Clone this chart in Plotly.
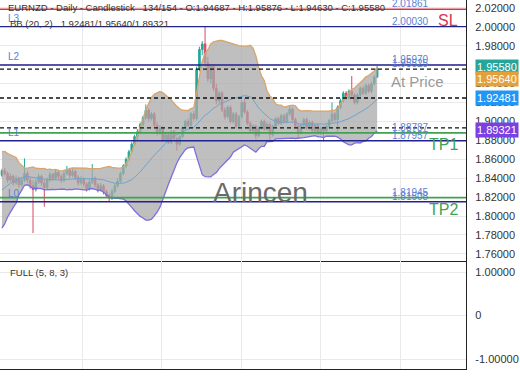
import plotly.graph_objects as go
import pandas as pd

# ---------------- data ----------------
warmup_close = [1.795, 1.790, 1.800, 1.805, 1.810, 1.800, 1.815, 1.820, 1.835, 1.845,
                1.840, 1.850, 1.845, 1.838, 1.842, 1.848, 1.840, 1.845, 1.843]

opens = [1.8430,1.8480,1.8450,1.8380,1.8420,1.8350,1.8400,1.8330,1.8380,1.8450,
         1.8380,1.8320,1.8280,1.8360,1.8420,1.8350,1.8300,1.8380,1.8440,1.8400,
         1.8460,1.8420,1.8380,1.8450,1.8490,1.8430,1.8470,1.8410,1.8350,1.8390,
         1.8340,1.8290,1.8360,1.8400,1.8330,1.8280,1.8320,1.8260,1.8220,1.8190,
         1.8260,1.8320,1.8370,1.8450,1.8530,1.8600,1.8680,1.8760,1.8840,1.8890,
         1.8970,1.9040,1.9120,1.9030,1.9080,1.8960,1.8880,1.8930,1.8800,1.8860,
         1.8780,1.8890,1.8820,1.8760,1.8840,1.8930,1.9000,1.8960,1.9080,1.9030,
         1.9550,1.9760,1.9820,1.9620,1.9450,1.9580,1.9350,1.9220,1.9300,1.9120,
         1.9050,1.9150,1.9000,1.9080,1.8950,1.9050,1.9200,1.9100,1.8980,1.8900,
         1.8950,1.8850,1.8930,1.9000,1.8920,1.8970,1.8860,1.8950,1.9030,1.8980,
         1.9060,1.9000,1.9080,1.9130,1.9020,1.8950,1.8880,1.8960,1.9020,1.8930,
         1.8990,1.8900,1.8960,1.8880,1.8930,1.8900,1.8950,1.9010,1.9080,1.9020,
         1.9150,1.9220,1.9300,1.9250,1.9320,1.9280,1.9200,1.9280,1.9350,1.9300,
         1.9380,1.9320,1.9400,1.94687]

highs = [1.8500,1.8510,1.8470,1.8450,1.8440,1.8430,1.8420,1.8410,1.8610,1.8480,
         1.8410,1.8380,1.8390,1.8450,1.8440,1.8380,1.8410,1.8470,1.8460,1.8490,
         1.8480,1.8440,1.8480,1.8530,1.8510,1.8500,1.8490,1.8430,1.8420,1.8410,
         1.8360,1.8390,1.8550,1.8420,1.8350,1.8350,1.8340,1.8280,1.8240,1.8290,
         1.8340,1.8400,1.8470,1.8550,1.8620,1.8700,1.8780,1.8860,1.8920,1.8990,
         1.9060,1.9180,1.9140,1.9100,1.9100,1.8990,1.8960,1.8950,1.8880,1.8880,
         1.8910,1.8910,1.8840,1.8860,1.8950,1.9020,1.9030,1.9100,1.9110,1.9580,
         1.9790,1.9850,2.0010,1.9680,1.9600,1.9600,1.9400,1.9320,1.9320,1.9150,
         1.9170,1.9170,1.9100,1.9100,1.9070,1.9220,1.9240,1.9120,1.9000,1.8970,
         1.8970,1.8950,1.9020,1.9020,1.8990,1.8990,1.8970,1.9050,1.9050,1.9080,
         1.9080,1.9100,1.9170,1.9150,1.9040,1.8970,1.8980,1.9040,1.9040,1.9010,
         1.9010,1.8980,1.8980,1.8950,1.8950,1.8970,1.9030,1.9200,1.9100,1.9170,
         1.9240,1.9320,1.9320,1.9340,1.9480,1.9300,1.9300,1.9370,1.9370,1.9400,
         1.9400,1.9420,1.9490,1.95876]

lows = [1.8410,1.8430,1.8350,1.8360,1.8320,1.8330,1.8300,1.8310,1.8360,1.8350,
        1.8290,1.7820,1.8260,1.8340,1.8320,1.8100,1.8280,1.8360,1.8370,1.8380,
        1.8390,1.8350,1.8360,1.8430,1.8400,1.8410,1.8380,1.8320,1.8330,1.8310,
        1.8260,1.8270,1.8340,1.8300,1.8250,1.8260,1.8230,1.8190,1.8150,1.8170,
        1.8240,1.8300,1.8350,1.8430,1.8510,1.8580,1.8660,1.8740,1.8800,1.8870,
        1.8950,1.9020,1.9000,1.9010,1.8940,1.8850,1.8860,1.8780,1.8780,1.8760,
        1.8760,1.8800,1.8690,1.8740,1.8820,1.8910,1.8940,1.8940,1.9010,1.9010,
        1.9530,1.9700,1.9580,1.9420,1.9400,1.9320,1.9180,1.9190,1.9100,1.9020,
        1.9030,1.8980,1.8980,1.8930,1.8930,1.9030,1.9080,1.8960,1.8880,1.8870,
        1.8810,1.8830,1.8910,1.8900,1.8900,1.8790,1.8840,1.8930,1.8960,1.8960,
        1.8980,1.8980,1.9060,1.9000,1.8930,1.8820,1.8860,1.8940,1.8910,1.8910,
        1.8880,1.8880,1.8860,1.8860,1.8790,1.8880,1.8930,1.8990,1.9000,1.8880,
        1.9130,1.9200,1.9230,1.9230,1.9260,1.9180,1.9180,1.9260,1.9280,1.9280,
        1.9300,1.9300,1.9380,1.94630]

closes = [1.8480,1.8450,1.8380,1.8420,1.8350,1.8400,1.8330,1.8380,1.8450,1.8380,
          1.8320,1.8280,1.8360,1.8420,1.8350,1.8300,1.8380,1.8440,1.8400,1.8460,
          1.8420,1.8380,1.8450,1.8490,1.8430,1.8470,1.8410,1.8350,1.8390,1.8340,
          1.8290,1.8360,1.8400,1.8330,1.8280,1.8320,1.8260,1.8220,1.8190,1.8260,
          1.8320,1.8370,1.8450,1.8530,1.8600,1.8680,1.8760,1.8840,1.8890,1.8970,
          1.9040,1.9120,1.9030,1.9080,1.8960,1.8880,1.8930,1.8800,1.8860,1.8780,
          1.8890,1.8820,1.8760,1.8840,1.8930,1.9000,1.8960,1.9080,1.9030,1.9550,
          1.9760,1.9820,1.9620,1.9450,1.9580,1.9350,1.9220,1.9300,1.9120,1.9050,
          1.9150,1.9000,1.9080,1.8950,1.9050,1.9200,1.9100,1.8980,1.8900,1.8950,
          1.8850,1.8930,1.9000,1.8920,1.8970,1.8860,1.8950,1.9030,1.8980,1.9060,
          1.9000,1.9080,1.9130,1.9020,1.8950,1.8880,1.8960,1.9020,1.8930,1.8990,
          1.8900,1.8960,1.8880,1.8930,1.8900,1.8950,1.9010,1.9080,1.9020,1.9150,
          1.9220,1.9300,1.9250,1.9320,1.9280,1.9200,1.9280,1.9350,1.9300,1.9380,
          1.9320,1.9400,1.94687,1.95580]

# horizontal levels
level_values = [2.01861, 2.00030, 1.95970, 1.95525, 1.92481, 1.89321, 1.88787, 1.87957, 1.81945, 1.81508]
level_kinds  = ["sl", "line", "line", "dash", "dash", "dash", "tp", "line", "tp", "line"]
level_labels = ["2.01861", "2.00030", "1.95970", "1.95525", "", "", "1.88787", "1.87957", "1.81945", "1.81508"]
side_names   = {2.00030: "L3", 1.95970: "L2", 1.87957: "L1", 1.81508: "L0"}
tag_names    = {2.01861: "SL", 1.88787: "TP1", 1.81945: "TP2"}

price_boxes  = [1.95580, 1.95640, 1.92481, 1.89321]
box_colors   = ["#26a69a", "#e3a13b", "#2196f3", "#7c3fe0"]
box_shifts   = [2, -11, 0, -2]

main_ticks = [1.76, 1.78, 1.80, 1.82, 1.84, 1.86, 1.88, 1.90, 1.92, 1.94, 1.96, 1.98, 2.00, 2.02]
osc_ticks = [-1, 0, 1]
osc_tick_text = ["-1.00000", "0", "1.00000"]
grid_x = [28.4, 56.6, 84.8, 113.0, 141.2]

title_line = "EURNZD - Daily - Candlestick   134/154 - O:1.94687 - H:1.95876 - L:1.94630 - C:1.95580"
bb_line = "BB (20, 2)   1.92481/1.95640/1.89321"
osc_line = "FULL (5, 8, 3)"

# ---------------- derived BB ----------------
allc = pd.Series(warmup_close + closes)
mid = allc.rolling(20).mean()
sd = allc.rolling(20).std(ddof=0)
n = len(closes)
bb_mid = mid.iloc[-n:].tolist()
bb_up = (mid + 2 * sd).iloc[-n:].tolist()
bb_lo = (mid - 2 * sd).iloc[-n:].tolist()
xs = list(range(n))

FONT = "Liberation Sans, Arial, sans-serif"

fig = go.Figure()
fig.add_trace(go.Scatter(x=xs, y=bb_up, mode="lines", line=dict(color="#d8a56c", width=1.3),
                         hoverinfo="skip", showlegend=False))
fig.add_trace(go.Scatter(x=xs, y=bb_lo, mode="lines", line=dict(color="#7b6fe0", width=1.3),
                         fill="tonexty", fillcolor="rgba(170,170,170,0.75)",
                         hoverinfo="skip", showlegend=False))
fig.add_trace(go.Scatter(x=xs, y=bb_mid, mode="lines", line=dict(color="#6fa3cf", width=1),
                         hoverinfo="skip", showlegend=False))
fig.add_trace(go.Candlestick(x=xs, open=opens, high=highs, low=lows, close=closes,
                             increasing=dict(line=dict(color="#26a69a", width=1), fillcolor="#26a69a"),
                             decreasing=dict(line=dict(color="#dd4762", width=1), fillcolor="#dd4762"),
                             whiskerwidth=0, showlegend=False))
fig.add_trace(go.Scatter(x=[None], y=[None], xaxis="x2", yaxis="y2", showlegend=False))

shapes = []
annotations = []
colors = {"sl": "#d9344a", "line": "#22228f", "tp": "#3fa24f", "dash": "#111111"}
for v, k, lab in zip(level_values, level_kinds, level_labels):
    if k == "dash":
        ln = dict(color=colors[k], width=1.3, dash="4px,3px")
    else:
        ln = dict(color=colors[k], width=1.4 if k != "tp" else 1.8, dash="solid")
    shapes.append(dict(type="line", xref="x domain", yref="y", x0=0, x1=1, y0=v, y1=v,
                       line=ln, layer="above"))
    if lab:
        annotations.append(dict(text=lab, xref="x domain", yref="y", x=0.88, y=v,
                                xanchor="center", yanchor="bottom", yshift=-2, showarrow=False,
                                font=dict(size=10, color="#5b7fd6", family=FONT)))
    if v in side_names:
        annotations.append(dict(text=side_names[v], xref="x domain", yref="y", x=0.012, y=v,
                                xanchor="left", yanchor="bottom", yshift=1, showarrow=False,
                                font=dict(size=10, color="#5b7fd6", family=FONT)))
    if v in tag_names:
        annotations.append(dict(text=tag_names[v], xref="x domain", yref="y", x=0.987, y=v,
                                xanchor="right", yanchor="top", yshift=-1, showarrow=False,
                                font=dict(size=16, color=colors[k], family=FONT)))

annotations.append(dict(text="At Price", xref="x domain", yref="y", x=0.957, y=1.95525,
                        xanchor="right", yanchor="top", yshift=-2, showarrow=False,
                        font=dict(size=15, color="#9a9a9a", family=FONT)))
annotations.append(dict(text="Arincen", xref="x domain", yref="y", x=0.558, y=1.8244,
                        xanchor="center", yanchor="middle", showarrow=False,
                        font=dict(size=28, color="#6a6a6a", family=FONT)))

for v, c, s in zip(price_boxes, box_colors, box_shifts):
    annotations.append(dict(text=f"{v:.5f}", xref="paper", yref="y", x=1, y=v, xshift=9,
                            xanchor="left", yanchor="middle", yshift=s, showarrow=False,
                            bgcolor=c, borderpad=1,
                            font=dict(size=11, color="white", family=FONT)))

annotations.append(dict(text=title_line, xref="paper", yref="paper", x=0.0, y=1, xshift=6, yshift=-7,
                        xanchor="left", yanchor="middle", showarrow=False,
                        font=dict(size=9.5, color="#333", family=FONT)))
annotations.append(dict(text=bb_line, xref="paper", yref="paper", x=0.0, y=1, xshift=8, yshift=-23,
                        xanchor="left", yanchor="middle", showarrow=False,
                        font=dict(size=9.5, color="#333", family=FONT)))
annotations.append(dict(text=osc_line, xref="paper", yref="paper", x=0.0, y=108 / 369, xshift=8, yshift=-11,
                        xanchor="left", yanchor="middle", showarrow=False,
                        font=dict(size=9.5, color="#333", family=FONT)))

split = 108 / 369
fig.update_layout(
    width=520, height=390,
    margin=dict(l=0, r=54, t=0, b=21),
    paper_bgcolor="white", plot_bgcolor="white",
    showlegend=False, boxgap=0.2, hovermode=False,
    font=dict(family=FONT, size=11, color="#333"),
    xaxis=dict(domain=[0, 1], anchor="y", range=[-0.7, 164.5], tickvals=grid_x,
               showticklabels=False, showgrid=True, gridcolor="#e9e9e9", gridwidth=1,
               zeroline=False, showline=True, linecolor="#222", linewidth=1.3,
               rangeslider=dict(visible=False), ticks=""),
    yaxis=dict(domain=[split, 1], anchor="x", side="right", range=[1.7525, 2.0284],
               tickvals=main_ticks, tickformat=".5f", showgrid=True, gridcolor="#e9e9e9",
               zeroline=False, showline=True, linecolor="#222", linewidth=1.3,
               ticks="outside", ticklen=6, tickcolor="rgba(0,0,0,0)",
               tickfont=dict(size=11, color="#333", family=FONT)),
    xaxis2=dict(domain=[0, 1], anchor="y2", matches="x", range=[-0.7, 164.5], tickvals=grid_x,
                showticklabels=False, showgrid=True, gridcolor="#e9e9e9",
                zeroline=False, showline=True, linecolor="#222", linewidth=1.3, ticks=""),
    yaxis2=dict(domain=[0, split], anchor="x2", side="right", range=[-1.23, 1.253],
                tickvals=osc_ticks, ticktext=osc_tick_text, showgrid=True, gridcolor="#e9e9e9",
                zeroline=False, showline=True, linecolor="#222", linewidth=1.3,
                ticks="outside", ticklen=6, tickcolor="rgba(0,0,0,0)",
                tickfont=dict(size=11, color="#333", family=FONT)),
    shapes=shapes,
    annotations=annotations,
)

fig.write_html("out.html", config={"displayModeBar": False},
               post_script="document.body.style.margin='0px';document.body.style.overflow='hidden';")
